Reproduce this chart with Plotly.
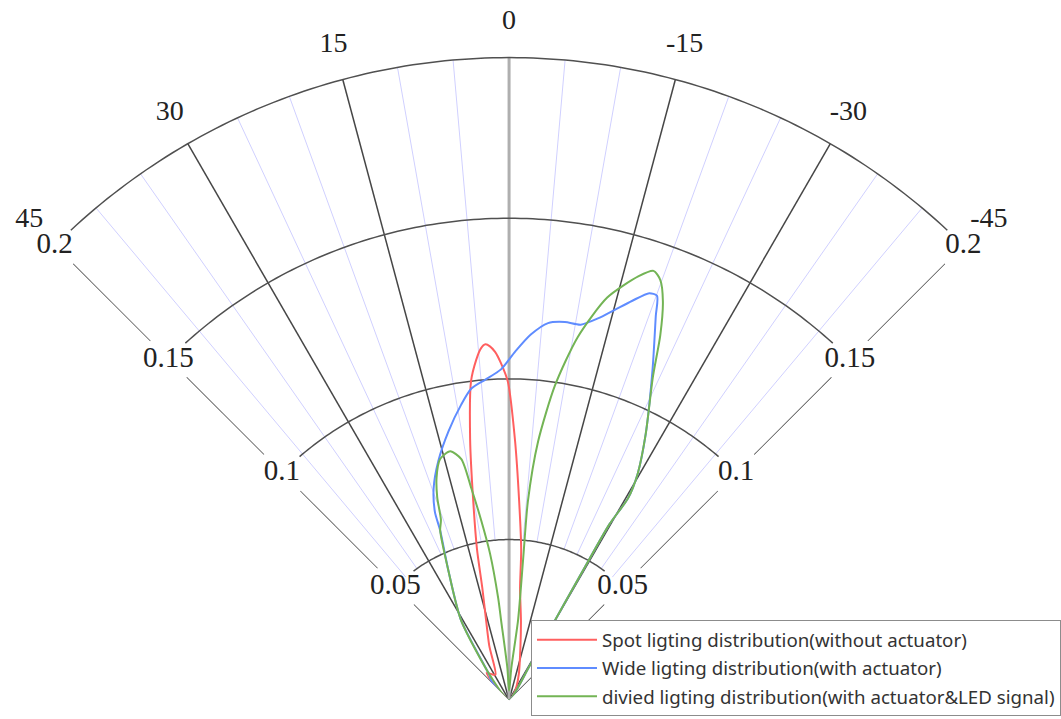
import plotly.graph_objects as go

# ---------------- data ----------------
spot_theta = [-45, -35, -28, -20, -12, -8.5, -5.6, -4.6, -2.9, -1.3, 0.2, 1.4, 2.3, 3.1, 3.8,
              4.6, 5.5, 6.8, 8.5, 10.2, 12, 13.4, 16, 20, 28, 35, 39.5, 45]
spot_r = [0.0, 0.003, 0.005, 0.009, 0.017, 0.025, 0.035, 0.047, 0.062, 0.081, 0.099, 0.105,
          0.1085, 0.1103, 0.111, 0.1098, 0.1065, 0.100, 0.082, 0.063, 0.048, 0.036, 0.026,
          0.018, 0.009, 0.010, 0.011, 0.0]

wide_theta = [-45, -36, -31, -30, -29.7, -29.7, -30.5, -29.6, -27.2, -23.4, -20.9, -20.1,
              -19.0, -17.1, -15.2, -13.1, -10.8, -8.4, -5.9, -3.4, -1.0, 1.4, 4.3, 6.9, 9.2,
              12.7, 16.5, 19.6, 21.5, 22.1, 25.1, 31, 38, 43, 45]
wide_r = [0.0, 0.004, 0.012, 0.025, 0.045, 0.063, 0.073, 0.081, 0.093, 0.1125, 0.128, 0.134,
          0.134, 0.130, 0.126, 0.122, 0.119, 0.119, 0.118, 0.114, 0.1085, 0.103, 0.100,
          0.0977, 0.0932, 0.0858, 0.0776, 0.070, 0.063, 0.057, 0.0445, 0.029, 0.010, 0.008, 0.0]

divided_theta = [-45, -36, -31, -30, -29.7, -29.7, -30.5, -29.6, -27.2, -24, -22.5, -21.1,
                 -19.8, -18.6, -17, -13.7, -10.7, -8.3, -6.4, -5.4, -5.7, -6.4, -4, 0, 3,
                 5.7, 6.1, 7.4, 8.8, 10.1, 11.2, 13.3, 16, 18, 19.5, 20.7, 22.1, 25.1, 31,
                 38, 45]
divided_r = [0.0, 0.004, 0.012, 0.025, 0.045, 0.063, 0.073, 0.081, 0.093, 0.11, 0.123, 0.133,
             0.139, 0.141, 0.138, 0.129, 0.115, 0.099, 0.081, 0.062, 0.044, 0.025, 0.01,
             0.003, 0.01, 0.025, 0.032, 0.046, 0.0565, 0.067, 0.0765, 0.0796, 0.078, 0.073,
             0.067, 0.060, 0.057, 0.0445, 0.029, 0.009, 0.0]

series_names = ["Spot ligting distribution(without actuator)",
                "Wide ligting distribution(with actuator)",
                "divied ligting distribution(with actuator&LED signal)"]
series_colors = ["rgb(255,95,95)", "rgb(95,140,255)", "rgb(115,180,85)"]

angle_ticks = [-45, -30, -15, 0, 15, 30, 45]
angle_labels = ["-45", "-30", "-15", "0", "15", "30", "45"]
minor_angles = [-40, -35, -25, -20, -10, -5, 5, 10, 20, 25, 35, 40]
radial_ticks = [0.05, 0.1, 0.15, 0.2]
radial_labels = ["0.05", "0.1", "0.15", "0.2"]
arc_half_span = [36.5, 40.7, 42.2, 43.0]   # arcs stop short of the edge labels
label_gap = 0.008                           # spoke gap around each edge label
r_max = 0.2                                 # outer ring
r_axis_max = 0.215                          # axis range leaves room for the angle labels
angle_label_r = 0.2112                      # just outside the outer ring

fig = go.Figure()

def seg_trace(theta, r, color, width):
    return go.Scatterpolar(theta=theta, r=r, mode="lines", line=dict(color=color, width=width),
                           hoverinfo="skip", showlegend=False, cliponaxis=False)

# minor light-blue spokes (from the first ring outward)
th, rr = [], []
for a in minor_angles:
    th += [a, a, None]
    rr += [radial_ticks[0], r_max, None]
fig.add_trace(seg_trace(th, rr, "rgb(208,208,255)", 1))

# major black spokes
th, rr = [], []
for a in angle_ticks:
    if a in (-45, 45, 0):
        continue
    th += [a, a, None]
    rr += [0, r_max, None]
fig.add_trace(seg_trace(th, rr, "rgb(70,70,70)", 1.5))

# edge spokes with gaps where the radial labels sit
th, rr = [], []
for a in (-45, 45):
    start = 0
    for v in radial_ticks:
        th += [a, a, None]
        rr += [start, v - label_gap, None]
        start = v + label_gap
fig.add_trace(seg_trace(th, rr, "rgb(70,70,70)", 1.5))

# centre spoke (grey, thicker)
fig.add_trace(seg_trace([0, 0], [0, r_max], "rgb(175,175,175)", 3))

# rings
for v, hs in zip(radial_ticks, arc_half_span):
    n = 121
    th = [-hs + 2 * hs * i / (n - 1) for i in range(n)]
    fig.add_trace(seg_trace(th, [v] * n, "rgb(80,80,80)", 1.5))

# data curves
for name, t, r, c in zip(series_names, [spot_theta, wide_theta, divided_theta],
                         [spot_r, wide_r, divided_r], series_colors):
    fig.add_trace(go.Scatterpolar(theta=t, r=r, mode="lines", name=name,
                                  line=dict(color=c, width=2, shape="spline", smoothing=0.7),
                                  legendgroup=name, cliponaxis=False))

serif = dict(family="Liberation Serif", size=28, color="#222")

# radial labels on both edges
for a in (-45, 45):
    fig.add_trace(go.Scatterpolar(theta=[a] * len(radial_ticks), r=radial_ticks,
                                  mode="text", text=radial_labels, textposition="middle center",
                                  textfont=dict(serif, size=29),
                                  showlegend=False, hoverinfo="skip", cliponaxis=False))

# angle labels, centred on their spokes just outside the outer ring
fig.add_trace(go.Scatterpolar(theta=angle_ticks, r=[angle_label_r] * len(angle_ticks),
                              mode="text", text=angle_labels, textposition="middle center",
                              textfont=serif, showlegend=False, hoverinfo="skip",
                              cliponaxis=False))

# geometry: ring r_max has a 645 px radius, centre at (511, 701) px
R_axis = 645 * r_axis_max / r_max
cx, cy = 511, 701.5
fig.update_layout(
    width=1061, height=719,
    margin=dict(l=0, r=0, t=0, b=0),
    paper_bgcolor="white", plot_bgcolor="white",
    polar=dict(
        domain=dict(x=[(cx - R_axis * 0.70710678) / 1061, (cx + R_axis * 0.70710678) / 1061],
                    y=[(719 - cy) / 719, (719 - cy + R_axis) / 719]),
        sector=[45, 135],
        bgcolor="rgba(0,0,0,0)",
        angularaxis=dict(rotation=90, direction="counterclockwise",
                         tickmode="array", tickvals=angle_ticks,
                         showticklabels=False, showgrid=False, showline=False, ticks=""),
        radialaxis=dict(range=[0, r_axis_max], showgrid=False, showline=False,
                        showticklabels=False, ticks=""),
    ),
    legend=dict(x=533 / 1061, y=(719 - 716) / 719, xanchor="left", yanchor="bottom",
                bgcolor="white", bordercolor="rgb(140,140,140)", borderwidth=1,
                font=dict(family="Noto Sans", size=18.7, color="#333"),
                tracegroupgap=1, itemwidth=60),
)

fig.write_html("out.html", post_script="document.body.style.margin='0';",
               config={"displayModeBar": False})
